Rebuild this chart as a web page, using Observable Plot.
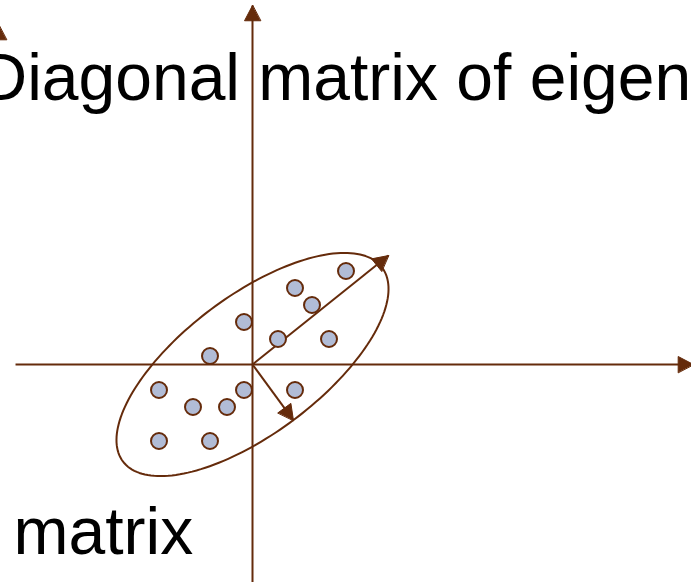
<!DOCTYPE html>
<html>
<head>
<meta charset="utf-8">
<script src="https://cdn.jsdelivr.net/npm/d3@7"></script>
<script src="https://cdn.jsdelivr.net/npm/@observablehq/plot@0.6"></script>
<style>
  html, body { margin: 0; padding: 0; background: white; overflow: hidden; }
  #chart svg { display: block; }
</style>
</head>
<body>
<div id="chart"></div>
<script>
// Data points (grid units)
const pointX = [5.5, 2.5, 3.5, -0.5, 1.5, 4.5, -2.5, -5.5, -0.5, 2.5, -3.5, -1.5, -5.5, -2.5];
const pointY = [5.5, 4.5, 3.5, 2.5, 1.5, 1.5, 0.5, -1.5, -1.5, -1.5, -2.5, -2.5, -4.5, -4.5];

// Eigenvector arrow tips (from origin)
const eigenTipX = [8.0, 2.41];
const eigenTipY = [6.41, -3.29];

// Covariance ellipse: semi-axes and angle (degrees)
const ellipseAxes = [9.52, 4.06];
const ellipseAngle = 36.8;

// Coordinate axes extents
const axisXRange = [-13.94, 25.94];
const axisYRange = [-12.82, 21.12];

// Text labels
const labels = ["Diagonal matrix of eigen", "matrix"];

const brown = "#652b0b";
const dotFill = "#b1bcd6";

const points = pointX.map((x, i) => ({x, y: pointY[i]}));

// Ellipse outline
const ellipse = d3.range(0, 361, 2).map(t => {
  const a = ellipseAxes[0], b = ellipseAxes[1];
  const th = ellipseAngle * Math.PI / 180, r = t * Math.PI / 180;
  const u = a * Math.cos(r), v = b * Math.sin(r);
  return {x: u * Math.cos(th) - v * Math.sin(th), y: u * Math.sin(th) + v * Math.cos(th)};
});

// Line segments
const segments = [
  {x1: axisXRange[0], y1: 0, x2: axisXRange[1], y2: 0},
  {x1: 0, y1: axisYRange[0], x2: 0, y2: axisYRange[1]},
  ...eigenTipX.map((x, i) => ({x1: 0, y1: 0, x2: x, y2: eigenTipY[i]}))
];

// Filled triangular heads
const headLen = 0.9, headHalf = 0.47;
function head(id, tx, ty, fx, fy) {
  const dx = tx - fx, dy = ty - fy, L = Math.hypot(dx, dy);
  const ux = dx / L, uy = dy / L;
  const bx = tx - ux * headLen, by = ty - uy * headLen;
  return [
    {id, x: tx, y: ty},
    {id, x: bx - uy * headHalf, y: by + ux * headHalf},
    {id, x: bx + uy * headHalf, y: by - ux * headHalf}
  ];
}
const heads = [
  ...head(0, axisXRange[1], 0, 0, 0),
  ...head(1, 0, axisYRange[1], 0, 0),
  ...head(2, eigenTipX[0], eigenTipY[0], 0, 0),
  ...head(3, eigenTipX[1], eigenTipY[1], 0, 0),
  ...head(4, -14.94, 20.0, -14.94, 0)
];

const chart = Plot.plot({
  width: 691,
  height: 582,
  margin: 0,
  style: {background: "white", overflow: "hidden"},
  x: {domain: [-252 / 17, 439 / 17], axis: null},
  y: {domain: [-218 / 17, 364 / 17], axis: null},
  marks: [
    Plot.text([labels[0]], {x: -16.06, y: 15.53, text: d => d, textAnchor: "start", lineAnchor: "bottom",
      fontSize: 66, fontFamily: "Liberation Sans, Arial, Helvetica, sans-serif", fill: "black"}),
    Plot.text([labels[1]], {x: -14.06, y: -11.12, text: d => d, textAnchor: "start", lineAnchor: "bottom",
      fontSize: 66, fontFamily: "Liberation Sans, Arial, Helvetica, sans-serif", fill: "black"}),
    Plot.link(segments, {x1: "x1", y1: "y1", x2: "x2", y2: "y2", stroke: brown, strokeWidth: 2}),
    Plot.line(ellipse, {x: "x", y: "y", stroke: brown, strokeWidth: 2, curve: "linear-closed"}),
    Plot.line(heads, {x: "x", y: "y", z: "id", fill: brown, stroke: brown, strokeWidth: 1, curve: "linear-closed"}),
    Plot.dot(points, {x: "x", y: "y", r: 8, fill: dotFill, stroke: brown, strokeWidth: 2})
  ]
});
document.getElementById("chart").appendChild(chart);
</script>
</body>
</html>
